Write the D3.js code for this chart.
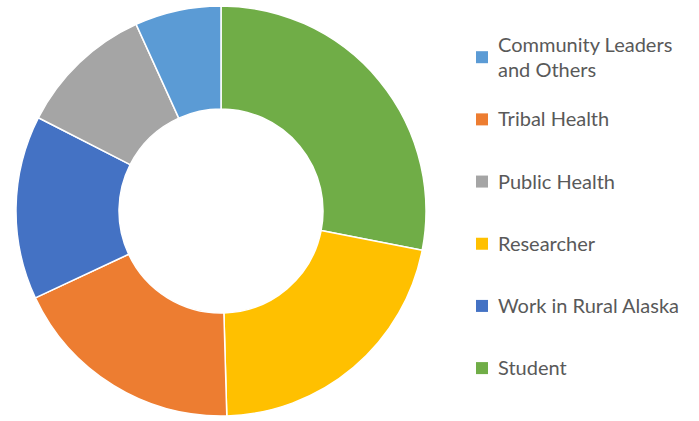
<!DOCTYPE html>
<html>
<head>
<meta charset="utf-8">
<script src="https://cdn.jsdelivr.net/npm/d3@7"></script>
<style>
  html, body { margin: 0; padding: 0; background: #ffffff; }
  svg { display: block; }
</style>
</head>
<body>
<svg id="chart" width="699" height="421"></svg>
<script>
// Respondent groups, in the order the slices run clockwise from 12 o'clock
const categories = ["Student", "Researcher", "Tribal Health", "Work in Rural Alaska", "Public Health", "Community Leaders and Others"];
// Share of respondents (%)
const values = [28.1, 21.5, 18.5, 14.5, 10.7, 6.8];
const colors = ["#70AD47", "#FFC000", "#ED7D31", "#4472C4", "#A5A5A5", "#5B9BD5"];
// Order of the entries in the legend
const legendOrder = ["Community Leaders and Others", "Tribal Health", "Public Health", "Researcher", "Work in Rural Alaska", "Student"];
// Legend text, wrapped where the entry is too long for one line
const legendLines = {
  "Community Leaders and Others": ["Community Leaders", "and Others"]
};

const svg = d3.select("#chart");
const cx = 221, cy = 211, outerR = 205, innerR = 102;

const color = d3.scaleOrdinal().domain(categories).range(colors);

const pie = d3.pie().sort(null).value(d => d.value);
const arc = d3.arc().innerRadius(innerR).outerRadius(outerR);

const data = categories.map((c, i) => ({ name: c, value: values[i] }));

svg.append("g")
  .attr("transform", `translate(${cx},${cy})`)
  .selectAll("path")
  .data(pie(data))
  .join("path")
  .attr("d", arc)
  .attr("fill", d => color(d.data.name))
  .attr("stroke", "#ffffff")
  .attr("stroke-width", 1.5)
  .attr("stroke-linejoin", "round");

// Legend: entries sit in equal slots; multi-line text is centred on its slot
const legendX = 476, textX = 498, fontSize = 20, lineH = 25;
const slot = d3.scalePoint().domain(legendOrder).range([64.2, 375.1]);
const legend = svg.append("g").attr("font-family", "Lato, 'Noto Sans', sans-serif")
  .attr("font-size", fontSize).attr("fill", "#595959");

legendOrder.forEach(name => {
  const lines = legendLines[name] || [name];
  const mid = slot(name);
  const first = mid - (lines.length - 1) * lineH / 2;
  legend.append("rect")
    .attr("x", legendX).attr("y", mid - 7 - 6)
    .attr("width", 12).attr("height", 12)
    .attr("fill", color(name));
  const t = legend.append("text").attr("x", textX).attr("y", first);
  lines.forEach((ln, i) => {
    t.append("tspan").attr("x", textX).attr("y", first + i * lineH).text(ln);
  });
});
</script>
</body>
</html>
